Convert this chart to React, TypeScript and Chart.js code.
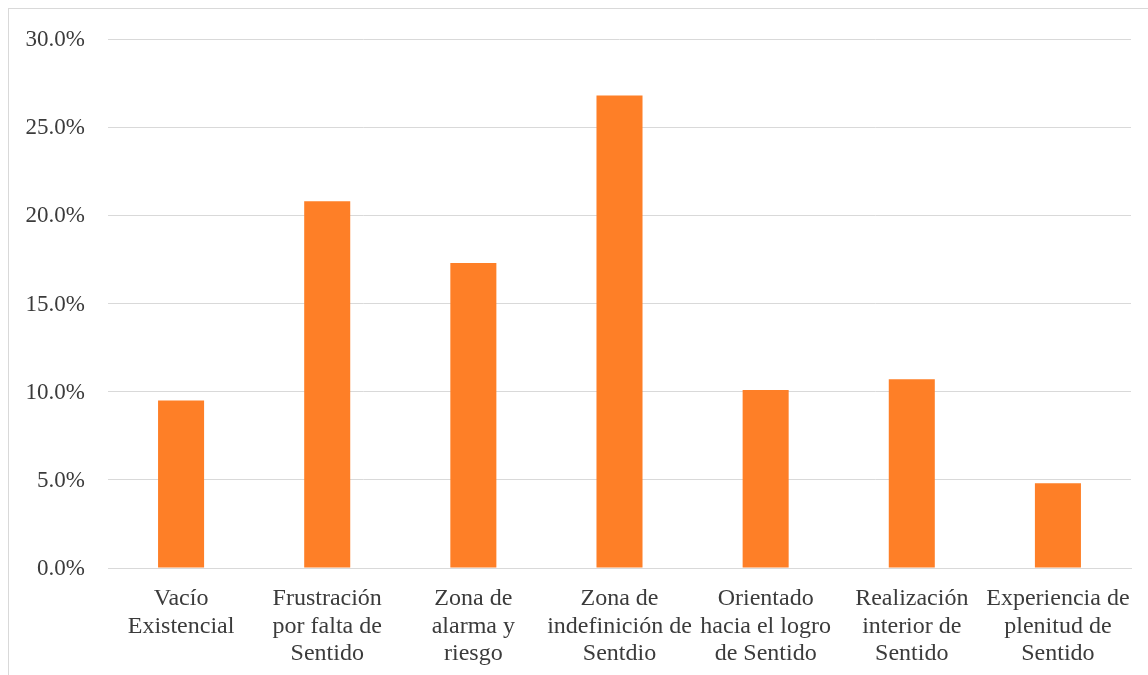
import React, { useEffect, useRef } from "react";
import { Chart, registerables } from "chart.js";

Chart.register(...registerables);

// Sense-of-life categories (multi-line labels)
const categories: string[][] = [
  ["Vacío", "Existencial"],
  ["Frustración", "por falta de", "Sentido"],
  ["Zona de", "alarma y", "riesgo"],
  ["Zona de", "indefinición de", "Sentdio"],
  ["Orientado", "hacia el logro", "de Sentido"],
  ["Realización", "interior de", "Sentido"],
  ["Experiencia de", "plenitud de", "Sentido"],
];

// Percentage of respondents in each category
const percentages: number[] = [9.5, 20.8, 17.3, 26.8, 10.1, 10.7, 4.8];

// Y axis range and step (percent)
const yMin = 0;
const yMax = 30;
const yStep = 5;

const FONT = "'Liberation Serif', 'Times New Roman', serif";
const TEXT = "#3b3b3b";
const GRID = "#d9d9d9";
const BAR = "#FE7F27";

export default function App() {
  const canvasRef = useRef<HTMLCanvasElement | null>(null);

  useEffect(() => {
    if (!canvasRef.current) return;
    const chart = new Chart(canvasRef.current, {
      type: "bar",
      data: {
        labels: categories,
        datasets: [
          {
            data: percentages,
            backgroundColor: BAR,
            borderWidth: 0,
            barPercentage: 0.315,
            categoryPercentage: 1,
          },
        ],
      },
      options: {
        animation: false,
        responsive: false,
        maintainAspectRatio: false,
        layout: { padding: { top: 39, right: 17, bottom: 0, left: 0 } },
        plugins: {
          legend: { display: false },
          tooltip: { enabled: false },
        },
        scales: {
          x: {
            grid: { display: false, drawTicks: false },
            border: { display: true, color: GRID, width: 1 },
            ticks: {
              color: TEXT,
              font: { family: FONT, size: 24, lineHeight: 1.146 },
              padding: 17,
              maxRotation: 0,
              autoSkip: false,
            },
            afterFit: (scale: any) => {
              scale.height = 107;
            },
          },
          y: {
            min: yMin,
            max: yMax,
            grid: { color: GRID, lineWidth: 1, drawTicks: false },
            border: { display: false },
            ticks: {
              stepSize: yStep,
              color: TEXT,
              font: { family: FONT, size: 23 },
              padding: 23,
              labelOffset: 1,
              callback: (v: any) => Number(v).toFixed(1) + "%",
            },
            afterFit: (scale: any) => {
              scale.width = 108;
            },
          },
        },
      },
    });
    return () => chart.destroy();
  }, []);

  return (
    <div
      style={{
        position: "fixed",
        left: 0,
        top: 0,
        width: 1148,
        height: 675,
        overflow: "hidden",
        background: "#ffffff",
      }}
    >
      <div
        style={{
          position: "absolute",
          left: 8,
          top: 8,
          width: 1160,
          height: 700,
          border: "1px solid #d9d9d9",
          boxSizing: "border-box",
        }}
      />
      <canvas
        ref={canvasRef}
        width={1148}
        height={675}
        style={{ position: "absolute", left: 0, top: 0, width: 1148, height: 675 }}
      />
    </div>
  );
}
